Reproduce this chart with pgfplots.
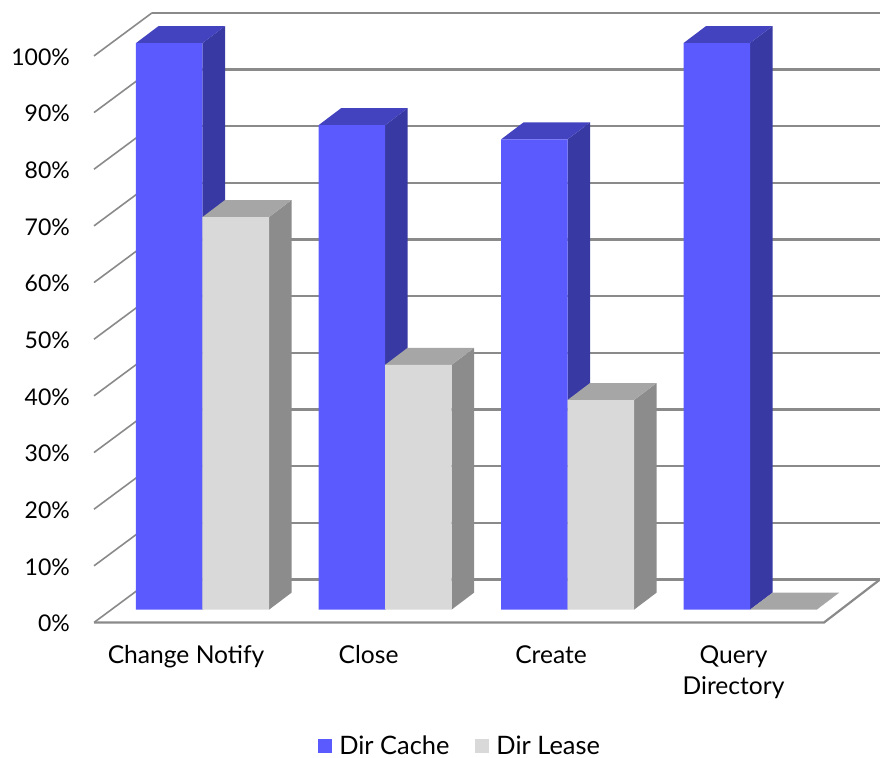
\documentclass[border=0pt]{standalone}
\usepackage{fontspec}
\setmainfont{Lato}
\usepackage{pgfplots}
\usepackage{pgfplotstable}
\pgfplotsset{compat=1.18}

\definecolor{cacheFront}{HTML}{5A5AFF}
\definecolor{cacheSide}{HTML}{3939A3}
\definecolor{cacheTop}{HTML}{4343BF}
\definecolor{leaseFront}{HTML}{D9D9D9}
\definecolor{leaseSide}{HTML}{8C8C8C}
\definecolor{leaseTop}{HTML}{A6A6A6}
\definecolor{wallLine}{HTML}{8A8A8A}

% Share of operations per category, in percent
\pgfplotstableread{
idx cache lease
0   100   69.3
1   85.5  43.2
2   83    37
3   100   0
}\opsdata

% Oblique depth of a bar, and of the whole floor, in axis units
\newcommand{\barDX}{0.1233}
\newcommand{\barDY}{3}
\newcommand{\wallDY}{7.59}
\newcommand{\planeY}{-2.26}

% Side and top faces of one bar: left edge, right edge, value, side colour, top colour
\newcommand{\barfaces}[5]{%
  \addplot[forget plot, draw=none, fill=#4] coordinates
    {(#2,0) ({#2+\barDX},\barDY) ({#2+\barDX},{#3+\barDY}) (#2,#3)} --cycle;
  \addplot[forget plot, draw=none, fill=#5] coordinates
    {(#1,#3) ({#1+\barDX},{#3+\barDY}) ({#2+\barDX},{#3+\barDY}) (#2,#3)} --cycle;
}

\begin{document}
\begin{tikzpicture}[x=1pt,y=1pt]
\path[use as bounding box] (0,0) rectangle (880,757);
\begin{axis}[
  at={(94pt,134.5pt)}, anchor=south west,
  scale only axis, width=786pt, height=609.5pt,
  xmin=-0.5945, xmax=3.7123,
  ymin=-2.26, ymax=105.31,
  clip=false,
  axis line style={draw=none},
  major tick length=0pt,
  tick style={draw=none},
  xtick={-0.09,0.91,1.91,2.91},
  xticklabels={Change Notify,Close,Create,Query\\Directory},
  ytick={-2.26,7.74,17.74,27.74,37.74,47.74,57.74,67.74,77.74,87.74,97.74},
  yticklabels={0\%,10\%,20\%,30\%,40\%,50\%,60\%,70\%,80\%,90\%,100\%},
  xticklabel style={font=\fontsize{24.6}{31}\selectfont, align=center, anchor=north, inner sep=0pt, yshift=-22.5pt},
  yticklabel style={font=\fontsize{23}{28}\selectfont, anchor=east, inner sep=0pt, xshift=-24pt, yshift=-1pt},
  legend style={
    at={(axis description cs:0.4645,-0.2026)}, anchor=center,
    draw=none, fill=none, inner sep=0pt, outer sep=0pt,
    font=\fontsize{25.4}{28}\selectfont,
    legend columns=2,
    /tikz/every even column/.append style={column sep=26pt},
    /tikz/every odd column/.append style={column sep=0pt},
    nodes={inner sep=0pt, anchor=west},
  },
]
% Back wall and left wall lines, one per percent tick
\pgfplotsinvokeforeach{0,10,...,100}{
  \addplot[forget plot, draw=wallLine, line width=1.6pt] coordinates
    {(-0.5945,{#1+\planeY}) (-0.2767,{#1+\planeY+\wallDY})};
  \addplot[forget plot, draw=wallLine, line width=2.2pt] coordinates
    {(-0.2767,{#1+\planeY+\wallDY}) (3.7123,{#1+\planeY+\wallDY})};
}
% Floor edges
\addplot[forget plot, draw=wallLine, line width=2.2pt, line join=miter] coordinates
  {(-0.5945,\planeY) (3.4055,\planeY) (3.7123,{\planeY+\wallDY})};

% Dir Cache: depth faces, then fronts
\barfaces{-0.3644}{0}{100}{cacheSide}{cacheTop}
\barfaces{0.6356}{1}{85.5}{cacheSide}{cacheTop}
\barfaces{1.6356}{2}{83}{cacheSide}{cacheTop}
\barfaces{2.6356}{3}{100}{cacheSide}{cacheTop}
\addplot[ybar, bar width=0.3644, bar shift=-0.1822, draw=none, fill=cacheFront,
  legend image code/.code={\fill[cacheFront] (0pt,-7pt) rectangle (14pt,7pt);}]
  table[x=idx, y=cache] {\opsdata};
\addlegendentry{\hspace{7pt}Dir Cache}

% Dir Lease: depth faces, then fronts
\barfaces{0}{0.3644}{69.3}{leaseSide}{leaseTop}
\barfaces{1}{1.3644}{43.2}{leaseSide}{leaseTop}
\barfaces{2}{2.3644}{37}{leaseSide}{leaseTop}
\barfaces{3}{3.3644}{0}{leaseSide}{leaseTop}
\addplot[ybar, bar width=0.3644, bar shift=0.1822, draw=none, fill=leaseFront,
  legend image code/.code={\fill[leaseFront] (0pt,-7pt) rectangle (14pt,7pt);}]
  table[x=idx, y=lease] {\opsdata};
\addlegendentry{\hspace{7pt}Dir Lease}
\end{axis}
\end{tikzpicture}
\end{document}
